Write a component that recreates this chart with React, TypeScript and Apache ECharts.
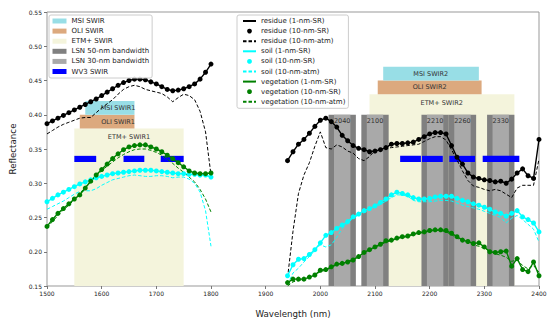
import React, { useEffect, useRef } from 'react';
import * as echarts from 'echarts';

// Wavelength sampling (nm)
const wlLeft = [1500, 1510, 1520, 1530, 1540, 1550, 1560, 1570, 1580, 1590, 1600, 1610, 1620, 1630, 1640, 1650, 1660, 1670, 1680, 1690, 1700, 1710, 1720, 1730, 1740, 1750, 1760, 1770, 1780, 1790, 1800];
const wlRight = [1940, 1950, 1960, 1970, 1980, 1990, 2000, 2010, 2020, 2030, 2040, 2050, 2060, 2070, 2080, 2090, 2100, 2110, 2120, 2130, 2140, 2150, 2160, 2170, 2180, 2190, 2200, 2210, 2220, 2230, 2240, 2250, 2260, 2270, 2280, 2290, 2300, 2310, 2320, 2330, 2340, 2350, 2360, 2370, 2380, 2390, 2400];

// Residue
const residueSRLeft = [0.387, 0.391, 0.395, 0.399, 0.403, 0.407, 0.411, 0.415, 0.419, 0.423, 0.428, 0.433, 0.438, 0.443, 0.447, 0.450, 0.452, 0.452, 0.451, 0.448, 0.445, 0.441, 0.437, 0.435, 0.436, 0.438, 0.441, 0.445, 0.452, 0.462, 0.474];
const residueSRRight = [0.333, 0.346, 0.357, 0.364, 0.373, 0.383, 0.392, 0.395, 0.390, 0.382, 0.370, 0.362, 0.355, 0.351, 0.349, 0.346, 0.347, 0.349, 0.352, 0.357, 0.358, 0.358, 0.359, 0.360, 0.364, 0.368, 0.372, 0.374, 0.374, 0.372, 0.355, 0.338, 0.328, 0.315, 0.309, 0.307, 0.305, 0.304, 0.302, 0.303, 0.300, 0.306, 0.315, 0.321, 0.311, 0.307, 0.364];
const residueAtmLeft = [0.372, 0.377, 0.382, 0.386, 0.389, 0.392, 0.395, 0.396, 0.396, 0.403, 0.410, 0.416, 0.422, 0.430, 0.437, 0.441, 0.443, 0.441, 0.437, 0.435, 0.433, 0.431, 0.426, 0.419, 0.425, 0.430, 0.428, 0.422, 0.405, 0.375, 0.312];
const residueAtmRight = [0.162, 0.230, 0.285, 0.312, 0.330, 0.354, 0.375, 0.352, 0.350, 0.356, 0.353, 0.347, 0.344, 0.336, 0.333, 0.339, 0.348, 0.350, 0.351, 0.352, 0.353, 0.354, 0.355, 0.356, 0.357, 0.361, 0.365, 0.368, 0.368, 0.363, 0.349, 0.334, 0.318, 0.304, 0.296, 0.294, 0.291, 0.289, 0.291, 0.289, 0.284, 0.279, 0.293, 0.297, 0.297, 0.297, 0.335];

// Soil
const soilSRLeft = [0.273, 0.278, 0.283, 0.287, 0.291, 0.295, 0.299, 0.302, 0.305, 0.308, 0.310, 0.312, 0.314, 0.315, 0.316, 0.317, 0.318, 0.319, 0.319, 0.319, 0.318, 0.317, 0.316, 0.315, 0.314, 0.314, 0.313, 0.313, 0.312, 0.312, 0.309];
const soilSRRight = [0.165, 0.181, 0.189, 0.190, 0.196, 0.203, 0.213, 0.224, 0.228, 0.234, 0.239, 0.244, 0.251, 0.255, 0.260, 0.263, 0.267, 0.272, 0.277, 0.283, 0.287, 0.285, 0.283, 0.279, 0.277, 0.277, 0.278, 0.280, 0.281, 0.281, 0.281, 0.278, 0.275, 0.273, 0.270, 0.268, 0.265, 0.262, 0.258, 0.256, 0.252, 0.256, 0.260, 0.251, 0.247, 0.242, 0.229];
const soilAtmLeft = [0.262, 0.266, 0.270, 0.274, 0.279, 0.284, 0.288, 0.289, 0.289, 0.292, 0.297, 0.301, 0.305, 0.307, 0.309, 0.311, 0.312, 0.311, 0.310, 0.310, 0.311, 0.311, 0.310, 0.308, 0.309, 0.309, 0.306, 0.300, 0.287, 0.260, 0.208];
const soilAtmRight = [0.152, 0.169, 0.176, 0.185, 0.193, 0.202, 0.210, 0.207, 0.210, 0.221, 0.234, 0.242, 0.249, 0.253, 0.257, 0.261, 0.265, 0.269, 0.274, 0.279, 0.283, 0.283, 0.281, 0.275, 0.273, 0.273, 0.273, 0.274, 0.275, 0.275, 0.274, 0.271, 0.268, 0.266, 0.264, 0.262, 0.259, 0.256, 0.253, 0.250, 0.242, 0.249, 0.253, 0.247, 0.240, 0.233, 0.214];

// Vegetation
const vegSRLeft = [0.237, 0.247, 0.256, 0.263, 0.270, 0.277, 0.283, 0.293, 0.303, 0.312, 0.320, 0.328, 0.336, 0.343, 0.349, 0.353, 0.355, 0.356, 0.356, 0.353, 0.350, 0.346, 0.341, 0.336, 0.330, 0.324, 0.318, 0.315, 0.314, 0.314, 0.315];
const vegSRRight = [0.155, 0.160, 0.160, 0.160, 0.163, 0.166, 0.173, 0.174, 0.178, 0.182, 0.183, 0.185, 0.188, 0.193, 0.199, 0.203, 0.207, 0.211, 0.216, 0.217, 0.220, 0.222, 0.223, 0.226, 0.228, 0.229, 0.231, 0.232, 0.232, 0.231, 0.227, 0.222, 0.217, 0.215, 0.212, 0.213, 0.207, 0.200, 0.199, 0.200, 0.201, 0.179, 0.190, 0.174, 0.171, 0.185, 0.165];
const vegAtmLeft = [0.235, 0.244, 0.253, 0.261, 0.268, 0.276, 0.285, 0.294, 0.303, 0.311, 0.318, 0.325, 0.331, 0.337, 0.342, 0.346, 0.349, 0.350, 0.350, 0.348, 0.345, 0.341, 0.335, 0.329, 0.322, 0.316, 0.309, 0.302, 0.291, 0.277, 0.258];
const vegAtmRight = [0.150, 0.156, 0.158, 0.159, 0.162, 0.166, 0.171, 0.173, 0.177, 0.181, 0.183, 0.186, 0.189, 0.193, 0.198, 0.202, 0.206, 0.210, 0.214, 0.216, 0.219, 0.221, 0.222, 0.225, 0.227, 0.228, 0.230, 0.231, 0.231, 0.229, 0.225, 0.220, 0.216, 0.213, 0.210, 0.208, 0.205, 0.201, 0.197, 0.195, 0.192, 0.186, 0.188, 0.180, 0.175, 0.180, 0.170];

// Sensor bands: [start nm, end nm, bottom, top]
const msiBands = [[1570, 1660, 0.40, 0.42], [2115, 2290, 0.45, 0.47]];
const msiLabels = ['MSI SWIR1', 'MSI SWIR2'];
const msiLabelX = [1630, 2202];
const oliBands = [[1560, 1660, 0.38, 0.40], [2105, 2295, 0.43, 0.45]];
const oliLabels = ['OLI SWIR1', 'OLI SWIR2'];
const oliLabelX = [1630, 2200];
const etmBands = [[1550, 1750, 0.15, 0.38], [2090, 2355, 0.15, 0.43]];
const etmLabels = ['ETM+ SWIR1', 'ETM+ SWIR2'];
const etmLabelX = [1650, 2222];
const lsnCenters = [2040, 2100, 2210, 2260, 2330];
const lsnLabels = ['2040', '2100', '2210', '2260', '2330'];
const lsn50Bands = [[2015, 2065, 0.15, 0.40], [2075, 2125, 0.15, 0.40], [2185, 2235, 0.15, 0.40], [2235, 2285, 0.15, 0.40], [2305, 2355, 0.15, 0.40]];
const lsn30Bands = [[2025, 2055, 0.15, 0.40], [2085, 2115, 0.15, 0.40], [2195, 2225, 0.15, 0.40], [2245, 2275, 0.15, 0.40], [2315, 2345, 0.15, 0.40]];
const wv3Bands = [[1550, 1590, 0.331, 0.340], [1640, 1678, 0.331, 0.340], [1708, 1750, 0.331, 0.340], [2146, 2184, 0.331, 0.340], [2186, 2224, 0.331, 0.340], [2236, 2283, 0.331, 0.340], [2297, 2364, 0.331, 0.340]];

const FONT = 'DejaVu Sans';

function seg(l: number[], r: number[]) {
  const out: any[] = wlLeft.map((w, i) => [w, l[i]]);
  out.push([1870, null]);
  wlRight.forEach((w, i) => out.push([w, r[i]]));
  return out;
}

type LabelMode = 'center' | 'top';

function bandSeries(name: string, rows: number[][], color: string, labels?: string[], labelX?: number[], mode?: LabelMode, labelOffset?: number) {
  return {
    type: 'custom',
    name,
    data: rows,
    silent: true,
    clip: true,
    itemStyle: { color },
    encode: { x: [0, 1], y: [2, 3] },
    renderItem: (params: any, api: any) => {
      const a = api.coord([api.value(0), api.value(3)]);
      const b = api.coord([api.value(1), api.value(2)]);
      const children: any[] = [
        { type: 'rect', shape: { x: a[0], y: a[1], width: b[0] - a[0], height: b[1] - a[1] }, style: { fill: color } },
      ];
      if (labels && labelX) {
        const i = params.dataIndex;
        const lx = api.coord([labelX[i], 0.3])[0];
        const ly = mode === 'center' ? (a[1] + b[1]) / 2 : a[1] + (labelOffset || 8);
        children.push({
          type: 'text',
          x: lx,
          y: ly,
          style: { text: labels[i], fill: '#333', font: `6.5px "${FONT}"`, align: 'center', verticalAlign: 'middle' },
        });
      }
      return { type: 'group', children };
    },
  };
}

function lineSeries(name: string, data: any[], color: string, kind: 'solid' | 'dots' | 'dashed') {
  const base: any = {
    type: 'line',
    name,
    data,
    connectNulls: false,
    silent: true,
    z: 3,
    itemStyle: { color },
  };
  if (kind === 'solid') {
    base.showSymbol = false;
    base.symbol = 'none';
    base.lineStyle = { color, width: 1.4 };
  } else if (kind === 'dots') {
    base.showSymbol = true;
    base.showAllSymbol = true;
    base.symbol = 'circle';
    base.symbolSize = 5;
    base.lineStyle = { color, width: 0 };
  } else {
    base.showSymbol = false;
    base.symbol = 'none';
    base.lineStyle = { color, width: 1, type: [3.5, 2] };
  }
  return base;
}

export default function App() {
  const ref = useRef<HTMLDivElement>(null);
  useEffect(() => {
    document.body.style.margin = '0';
    if (!ref.current) return;
    const chart = echarts.init(ref.current, undefined, { renderer: 'svg' });
    const bandNames = ['MSI SWIR', 'OLI SWIR', 'ETM+ SWIR', 'LSN 50-nm bandwidth', 'LSN 30-nm bandwidth', 'WV3 SWIR'];
    const curveLegend = [
      { name: 'residue (1-nm-SR)', itemStyle: { opacity: 0 } },
      { name: 'residue (10-nm-SR)', lineStyle: { opacity: 0 } },
      { name: 'residue (10-nm-atm)', itemStyle: { opacity: 0 } },
      { name: 'soil (1-nm-SR)', itemStyle: { opacity: 0 } },
      { name: 'soil (10-nm-SR)', lineStyle: { opacity: 0 } },
      { name: 'soil (10-nm-atm)', itemStyle: { opacity: 0 } },
      { name: 'vegetation (1-nm-SR)', itemStyle: { opacity: 0 } },
      { name: 'vegetation (10-nm-SR)', lineStyle: { opacity: 0 } },
      { name: 'vegetation (10-nm-atm)', itemStyle: { opacity: 0 } },
    ];
    const legendText = { fontFamily: FONT, fontSize: 7, color: '#222', lineHeight: 8 };
    chart.setOption({
      animation: false,
      textStyle: { fontFamily: FONT },
      grid: { left: 46, right: 11, top: 12, bottom: 37, show: true, borderColor: '#999', borderWidth: 1, backgroundColor: 'transparent' },
      legend: [
        {
          orient: 'vertical',
          left: 49,
          top: 15,
          data: bandNames.map((n) => ({ name: n, icon: 'rect' })),
          itemWidth: 14,
          itemHeight: 5,
          itemGap: 2.1,
          padding: [2, 3, 2.5, 3.5],
          backgroundColor: 'rgba(255,255,255,0.85)',
          borderColor: '#ccc',
          borderWidth: 1,
          borderRadius: 2,
          textStyle: legendText,
          selectedMode: false,
          z: 10,
        },
        {
          orient: 'vertical',
          left: 237,
          top: 15,
          data: curveLegend,
          itemWidth: 13,
          itemHeight: 6,
          itemGap: 2.1,
          padding: [2, 3, 2.5, 5],
          backgroundColor: 'rgba(255,255,255,0.85)',
          borderColor: '#ccc',
          borderWidth: 1,
          borderRadius: 2,
          textStyle: legendText,
          selectedMode: false,
          z: 10,
        },
      ],
      xAxis: {
        type: 'value',
        min: 1500,
        max: 2400,
        interval: 100,
        name: 'Wavelength (nm)',
        nameLocation: 'middle',
        nameGap: 23,
        nameTextStyle: { fontFamily: FONT, fontSize: 8.7, color: '#222' },
        axisLine: { show: false },
        axisTick: { show: true, length: 3, lineStyle: { color: '#777' } },
        axisLabel: { fontFamily: FONT, fontSize: 6, color: '#222', margin: 4, formatter: (v: number) => String(v) },
        splitLine: { show: false },
      },
      yAxis: {
        type: 'value',
        min: 0.15,
        max: 0.55,
        interval: 0.05,
        name: 'Reflectance',
        nameLocation: 'middle',
        nameGap: 30,
        nameTextStyle: { fontFamily: FONT, fontSize: 8.7, color: '#222' },
        axisLine: { show: false },
        axisTick: { show: true, length: 3, lineStyle: { color: '#777' } },
        axisLabel: { fontFamily: FONT, fontSize: 6, color: '#222', margin: 5, formatter: (v: number) => v.toFixed(2) },
        splitLine: { show: false },
      },
      series: [
        bandSeries('ETM+ SWIR', etmBands, '#f4f4dc', etmLabels, etmLabelX, 'top', 9),
        bandSeries('OLI SWIR', oliBands, '#dca97e', oliLabels, oliLabelX, 'center'),
        bandSeries('MSI SWIR', msiBands, '#98dee6', msiLabels, msiLabelX, 'center'),
        bandSeries('LSN 50-nm bandwidth', lsn50Bands, '#808080'),
        bandSeries('LSN 30-nm bandwidth', lsn30Bands, '#a9a9a9', lsnLabels, lsnCenters, 'top', 6.5),
        bandSeries('WV3 SWIR', wv3Bands, '#0000ff'),
        lineSeries('residue (1-nm-SR)', seg(residueSRLeft, residueSRRight), '#000000', 'solid'),
        lineSeries('residue (10-nm-SR)', seg(residueSRLeft, residueSRRight), '#000000', 'dots'),
        lineSeries('residue (10-nm-atm)', seg(residueAtmLeft, residueAtmRight), '#000000', 'dashed'),
        lineSeries('soil (1-nm-SR)', seg(soilSRLeft, soilSRRight), '#00ffff', 'solid'),
        lineSeries('soil (10-nm-SR)', seg(soilSRLeft, soilSRRight), '#00ffff', 'dots'),
        lineSeries('soil (10-nm-atm)', seg(soilAtmLeft, soilAtmRight), '#00ffff', 'dashed'),
        lineSeries('vegetation (1-nm-SR)', seg(vegSRLeft, vegSRRight), '#008000', 'solid'),
        lineSeries('vegetation (10-nm-SR)', seg(vegSRLeft, vegSRRight), '#008000', 'dots'),
        lineSeries('vegetation (10-nm-atm)', seg(vegAtmLeft, vegAtmRight), '#008000', 'dashed'),
      ],
    });
    return () => chart.dispose();
  }, []);
  return <div ref={ref} style={{ width: 550, height: 323 }} />;
}
